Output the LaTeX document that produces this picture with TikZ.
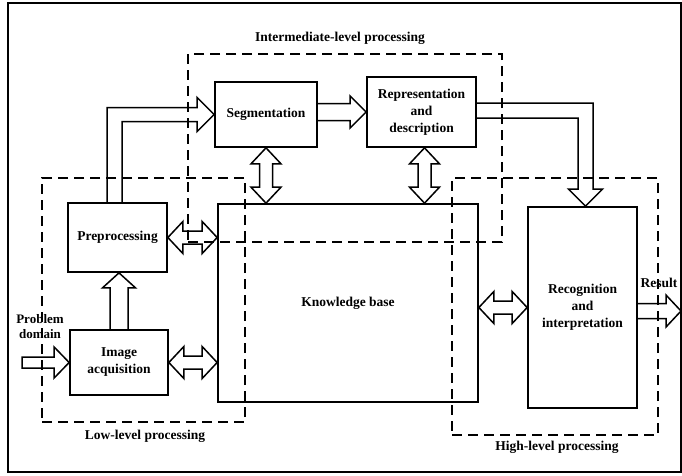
\documentclass[tikz,border=0pt]{standalone}
\usepackage{fontspec}
\setmainfont{Liberation Serif}
\usetikzlibrary{calc}

\tikzset{
  box/.style={draw, line width=1.7pt, inner sep=0pt, align=center,
    font=\bfseries\fontsize{13.5}{17}\selectfont},
  region/.style={draw, line width=1.6pt, dash pattern=on 10pt off 6pt, inner sep=0pt},
  lbl/.style={inner sep=0pt, align=center, font=\bfseries\fontsize{13.5}{15}\selectfont},
  fatarrow/.style={draw, line width=1.5pt, line join=miter},
}

% horizontal double-headed block arrow, left point #1, right point #2
\newcommand\hdblarrow[2]{%
  \draw[fatarrow] let \p1=(#1), \p2=(#2) in
    (\x1,\y1) -- ({\x1+15pt},{\y1+16pt}) -- ({\x1+15pt},{\y1+6.5pt})
    -- ({\x2-15pt},{\y1+6.5pt}) -- ({\x2-15pt},{\y1+16pt}) -- (\x2,\y1)
    -- ({\x2-15pt},{\y1-16pt}) -- ({\x2-15pt},{\y1-6.5pt})
    -- ({\x1+15pt},{\y1-6.5pt}) -- ({\x1+15pt},{\y1-16pt}) -- cycle;}

% vertical double-headed block arrow, upper point #1, lower point #2
\newcommand\vdblarrow[2]{%
  \draw[fatarrow] let \p1=(#1), \p2=(#2) in
    (\x1,\y1) -- ({\x1+15pt},{\y1-16pt}) -- ({\x1+6.5pt},{\y1-16pt})
    -- ({\x1+6.5pt},{\y2+16pt}) -- ({\x1+15pt},{\y2+16pt}) -- (\x1,\y2)
    -- ({\x1-15pt},{\y2+16pt}) -- ({\x1-6.5pt},{\y2+16pt})
    -- ({\x1-6.5pt},{\y1-16pt}) -- ({\x1-15pt},{\y1-16pt}) -- cycle;}

% single block arrow pointing right, tail #1, tip #2; #3 = shaft half width
\newcommand\rarrow[3]{%
  \draw[fatarrow] let \p1=(#1), \p2=(#2) in
    (\x1,{\y2+#3}) -- ({\x2-16pt},{\y2+#3}) -- ({\x2-16pt},{\y2+16pt})
    -- (\x2,\y2) -- ({\x2-16pt},{\y2-16pt}) -- ({\x2-16pt},{\y2-#3})
    -- (\x1,{\y2-#3});}

\begin{document}
\begin{tikzpicture}[x=1pt,y=-1pt]
\useasboundingbox (0,0) rectangle (682,475);
\fill[white] (0,0) rectangle (682,475);
\draw[line width=1.3pt] (8,3) rectangle (681,472);

% processing stages
\node[box, minimum width=102pt, minimum height=65pt] (seg) at (266,114.5) {Segmentation};
\node[box, minimum width=109pt, minimum height=70pt] (rep) at (421.5,112) {Representation\\and\\description};
\node[box, minimum width=260pt, minimum height=198pt] (kb) at (348,303) {Knowledge base};
\node[box, minimum width=99pt, minimum height=69pt] (pre) at (117.5,237.5) {Preprocessing};
\node[box, minimum width=98pt, minimum height=65pt] (img) at (119,362.5) {Image\\acquisition};
\node[box, minimum width=109pt, minimum height=201pt] (rec) at (582.5,307.5) {Recognition\\and\\interpretation};

% processing levels
\node[region, minimum width=314pt, minimum height=188pt] (mid) at (345,148) {};
\node[region, minimum width=203pt, minimum height=244pt] (low) at (143.5,300) {};
\node[region, minimum width=206pt, minimum height=257pt] (high) at (555,306.5) {};
\node[lbl] (midlbl) at (340,38) {Intermediate-level processing};
\node[lbl] (lowlbl) at (145,436) {Low-level processing};
\node[lbl] (highlbl) at (557,447) {High-level processing};
\node[lbl, font=\bfseries\fontsize{13}{15}\selectfont] (pdlbl) at (40,327) {Problem\\domain};
\node[lbl] (reslbl) at (659,283) {Result};

% input and output
\coordinate (pd) at (22,362);
\coordinate (res) at (681,311);
\draw[fatarrow] let \p1=(pd), \p2=(img.west) in
  (\x1,{\y2+5.5pt}) -- ({\x2-15pt},{\y2+5.5pt}) -- ({\x2-15pt},{\y2+15.5pt})
  -- (\x2,\y2) -- ({\x2-15pt},{\y2-15.5pt}) -- ({\x2-15pt},{\y2-5.5pt})
  -- (\x1,{\y2-5.5pt}) -- cycle;
\draw[fatarrow] let \p1=(rec.east), \p2=(res) in
  (\x1,{\y2+7.5pt}) -- ({\x2-15pt},{\y2+7.5pt}) -- ({\x2-15pt},{\y2+16pt})
  -- (\x2,\y2) -- ({\x2-15pt},{\y2-16pt}) -- ({\x2-15pt},{\y2-7.5pt})
  -- (\x1,{\y2-7.5pt});

% image acquisition -> preprocessing
\draw[fatarrow] let \p1=(img.north), \p2=(pre.south) in
  ({\x1-9pt},\y1) -- ({\x1-9pt},{\y2-15pt}) -- ({\x1-16.5pt},{\y2-15pt})
  -- (\x1,\y2) -- ({\x1+16.5pt},{\y2-15pt}) -- ({\x1+9pt},{\y2-15pt})
  -- ({\x1+9pt},\y1);

% preprocessing -> segmentation
\coordinate (prec) at ($(pre.north)+(-3,0)$);
\draw[fatarrow] let \p1=(prec), \p2=(seg.west) in
  ({\x1-7.5pt},\y1) -- ({\x1-7.5pt},{\y2+7pt}) -- ({\x2-17pt},{\y2+7pt})
  -- ({\x2-17pt},{\y2+17pt}) -- (\x2,\y2) -- ({\x2-17pt},{\y2-17pt})
  -- ({\x2-17pt},{\y2-7pt}) -- ({\x1+7.5pt},{\y2-7pt}) -- ({\x1+7.5pt},\y1);

% segmentation -> representation
\rarrow{seg.east}{rep.west}{8.5pt}

% representation -> recognition
\coordinate (repc) at ($(rep.east)+(0,-1.5)$);
\coordinate (recc) at ($(rec.north)+(3,0)$);
\draw[fatarrow] let \p1=(repc), \p2=(recc) in
  (\x1,{\y1+7.5pt}) -- ({\x2+7.5pt},{\y1+7.5pt}) -- ({\x2+7.5pt},{\y2+17pt})
  -- ({\x2+17pt},{\y2+17pt}) -- (\x2,\y2) -- ({\x2-17pt},{\y2+17pt})
  -- ({\x2-7.5pt},{\y2+17pt}) -- ({\x2-7.5pt},{\y1-7.5pt}) -- (\x1,{\y1-7.5pt});

% exchanges with the knowledge base
\hdblarrow{pre.east}{kb.west |- pre.east}
\hdblarrow{img.east}{kb.west |- img.east}
\hdblarrow{kb.east |- rec.west}{rec.west}
\vdblarrow{seg.south}{seg.south |- kb.north}
\vdblarrow{$(rep.south)+(3,0)$}{$(rep.south |- kb.north)+(3,0)$}
\end{tikzpicture}
\end{document}
